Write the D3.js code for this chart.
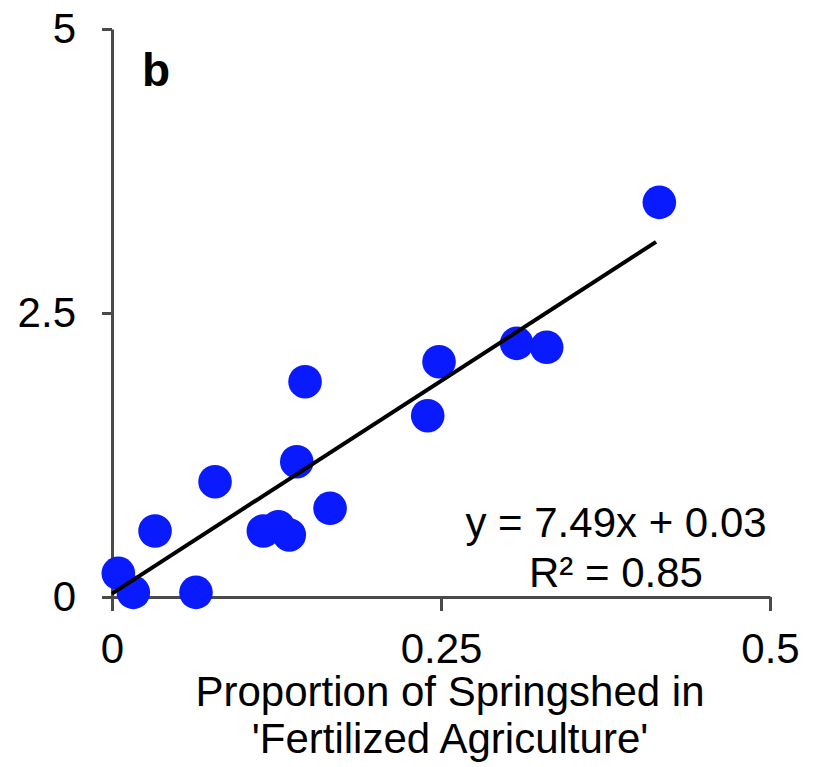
<!DOCTYPE html>
<html>
<head>
<meta charset="utf-8">
<script src="https://cdn.jsdelivr.net/npm/d3@7"></script>
<style>
  html, body { margin: 0; padding: 0; background: #fff; }
  svg { display: block; }
  text { font-family: "Liberation Sans", Arial, sans-serif; fill: #000; }
</style>
</head>
<body>
<svg id="chart" width="813" height="767"></svg>
<script>
// ---- data ----
const xValues = [0.0048, 0.0162, 0.0638, 0.0327, 0.0783, 0.1150, 0.1264, 0.1347, 0.1404, 0.1467, 0.1657, 0.2399, 0.2485, 0.3075, 0.3303, 0.4159];
const yValues = [0.209, 0.041, 0.041, 0.581, 1.015, 0.581, 0.619, 0.546, 1.191, 1.895, 0.781, 1.596, 2.071, 2.233, 2.198, 3.474];
const fitSlope = 7.49;
const fitIntercept = 0.03;
const fitRange = [0, 0.4134];
const xTicks = [0, 0.25, 0.5];
const xTickLabels = ["0", "0.25", "0.5"];
const yTicks = [0, 2.5, 5];
const yTickLabels = ["0", "2.5", "5"];
const xTitleLines = ["Proportion of Springshed in", "'Fertilized Agriculture'"];
const equationLines = ["y = 7.49x + 0.03", "R\u00B2 = 0.85"];
const panelLabel = "b";

// ---- layout ----
const svg = d3.select("#chart");
const x = d3.scaleLinear().domain([0, 0.5]).range([112, 770]);
const y = d3.scaleLinear().domain([0, 5]).range([597, 29]);
const axisColor = "#4a4a4a";
const fontSize = 42;

// x axis
const xAxis = svg.append("g").attr("transform", `translate(0,${y(0)})`)
  .call(d3.axisBottom(x).tickValues(xTicks).tickFormat((d, i) => xTickLabels[i]).tickSize(14).tickSizeOuter(0).tickPadding(22));
xAxis.select(".domain").attr("stroke", axisColor).attr("stroke-width", 3);
xAxis.selectAll(".tick line").attr("stroke", axisColor).attr("stroke-width", 3);
xAxis.selectAll(".tick text").attr("font-size", fontSize).attr("fill", "#000")
  .attr("font-family", "Liberation Sans, Arial, sans-serif");

// y axis
const yAxis = svg.append("g").attr("transform", `translate(${x(0)},0)`)
  .call(d3.axisLeft(y).tickValues(yTicks).tickFormat((d, i) => yTickLabels[i]).tickSize(10).tickSizeOuter(0).tickPadding(26));
yAxis.select(".domain").attr("stroke", axisColor).attr("stroke-width", 3);
yAxis.selectAll(".tick line").attr("stroke", axisColor).attr("stroke-width", 3);
yAxis.selectAll(".tick text").attr("font-size", fontSize).attr("fill", "#000")
  .attr("font-family", "Liberation Sans, Arial, sans-serif");

// points
const pts = xValues.map((v, i) => ({ x: v, y: yValues[i] }));
svg.append("g").selectAll("circle").data(pts).join("circle")
  .attr("cx", d => x(d.x)).attr("cy", d => y(d.y)).attr("r", 16.8)
  .attr("fill", "#0a1aff");

// fit line
svg.append("line")
  .attr("x1", x(fitRange[0])).attr("y1", y(fitSlope * fitRange[0] + fitIntercept))
  .attr("x2", x(fitRange[1])).attr("y2", y(fitSlope * fitRange[1] + fitIntercept))
  .attr("stroke", "#000").attr("stroke-width", 4);

// equation
svg.append("g").selectAll("text").data(equationLines).join("text")
  .attr("x", 616).attr("y", (d, i) => 537 + i * 50)
  .attr("text-anchor", "middle").attr("font-size", fontSize).text(d => d);

// panel label
svg.append("text").attr("x", 142).attr("y", 86).attr("font-size", 46)
  .attr("font-weight", "bold").text(panelLabel);

// x title
svg.append("g").selectAll("text").data(xTitleLines).join("text")
  .attr("x", 450).attr("y", (d, i) => 706 + i * 47)
  .attr("text-anchor", "middle").attr("font-size", fontSize).text(d => d);
</script>
</body>
</html>
